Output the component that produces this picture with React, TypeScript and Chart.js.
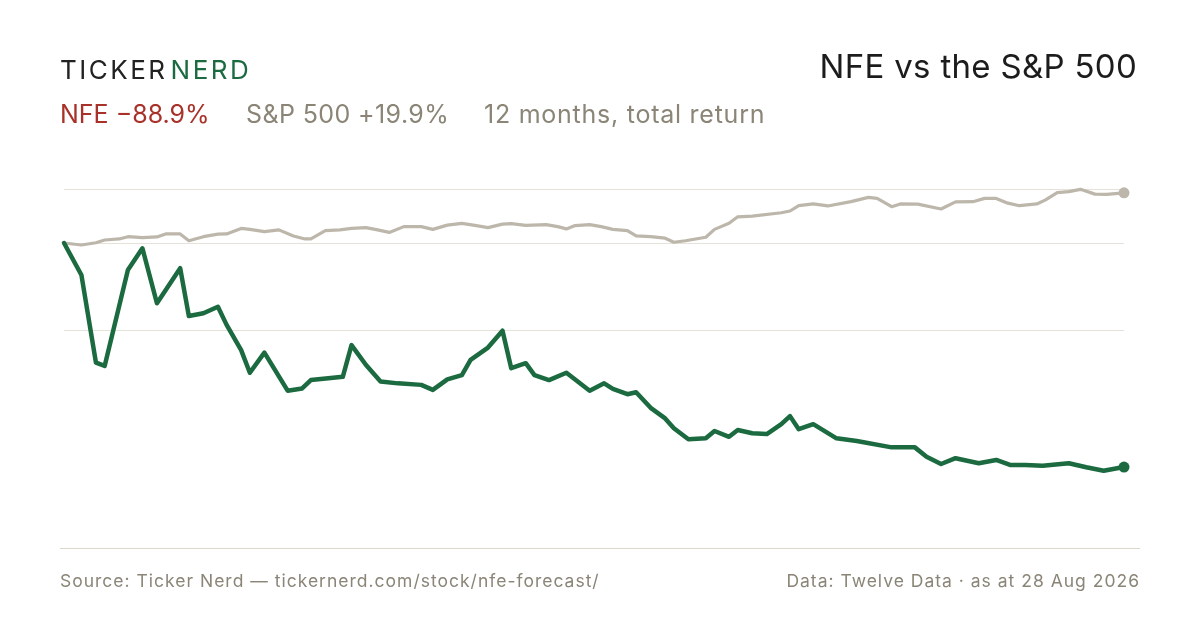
import { useEffect, useRef } from 'react';
import { Chart, registerables, type ChartConfiguration } from 'chart.js';

Chart.register(...registerables);

// Calendar days since 28 Aug 2025 and cumulative total return (%)
const nfeDays = [
  0, 6, 11, 14, 22, 27, 32, 40, 43, 48, 53, 56, 61, 64, 69, 77, 82, 85, 91, 96,
  99, 104, 109, 115, 123, 127, 132, 137, 140, 146, 151, 154, 159, 162, 167, 173,
  181, 186, 189, 194, 197, 202, 207, 210, 215, 221, 224, 229, 232, 237, 242, 247,
  250, 253, 258, 266, 273, 285, 293, 297, 302, 307, 315, 321, 326, 331, 337, 346,
  352, 358, 365,
];
const nfeReturns = [
  0, -12.7, -47.5, -48.8, -10.7, -2.1, -23.9, -10.0, -29.0, -27.9, -25.3, -32.5,
  -42.5, -51.5, -43.5, -58.6, -57.7, -54.4, -53.7, -53.1, -40.5, -48.4, -55.0,
  -55.7, -56.3, -58.3, -54.1, -52.4, -46.4, -41.5, -34.8, -49.7, -47.7, -52.4,
  -54.4, -51.5, -58.6, -55.7, -57.9, -60.0, -59.2, -65.4, -69.6, -73.5, -77.9,
  -77.5, -74.6, -76.9, -74.2, -75.5, -75.8, -71.9, -68.7, -73.9, -71.9, -77.5,
  -78.6, -81.1, -81.1, -84.8, -87.7, -85.4, -87.4, -86.1, -88.1, -88.1, -88.4,
  -87.4, -89.0, -90.4, -88.9,
];

const spxDays = [
  0, 6, 11, 14, 19, 22, 27, 32, 35, 40, 43, 48, 53, 56, 61, 64, 69, 74, 79, 83,
  85, 90, 95, 99, 104, 108, 112, 117, 123, 127, 132, 137, 142, 146, 151, 154,
  159, 166, 170, 173, 176, 181, 185, 189, 194, 197, 202, 207, 210, 214, 221, 224,
  229, 232, 237, 247, 250, 253, 258, 263, 271, 277, 280, 285, 288, 294, 302, 307,
  313, 317, 321, 325, 329, 335, 338, 342, 346, 350, 355, 359, 365,
];
const spxReturns = [
  0, -0.8, 0.1, 1.2, 1.6, 2.5, 2.1, 2.4, 3.6, 3.6, 0.9, 2.5, 3.5, 3.6, 5.8, 5.4,
  4.5, 5.2, 2.8, 1.6, 1.6, 4.9, 5.2, 5.8, 6.1, 5.2, 4.2, 6.5, 6.5, 5.4, 7.1, 7.8,
  6.9, 6.1, 7.5, 7.7, 7.0, 7.3, 6.5, 5.6, 6.9, 7.3, 6.5, 5.4, 4.9, 2.8, 2.5, 1.9,
  0.3, 0.9, 2.3, 5.4, 7.8, 10.4, 10.7, 12.0, 12.7, 14.8, 15.5, 14.7, 16.4, 18.1,
  17.7, 14.4, 15.5, 15.4, 13.5, 16.3, 16.4, 17.7, 17.7, 15.8, 14.8, 15.5, 17.1,
  20.0, 20.4, 21.3, 19.4, 19.3, 19.9,
];

const GREEN = '#1b6a40';
const SPX_GREY = '#bdb6ab';
const MUTED = '#8b8577';
const FONT = 'Inter, "Liberation Sans", Arial, sans-serif';

function ReturnChart() {
  const canvasRef = useRef<HTMLCanvasElement>(null);
  const chartRef = useRef<Chart | null>(null);

  useEffect(() => {
    if (!canvasRef.current) return;
    if (chartRef.current) chartRef.current.destroy();

    const all = [...nfeReturns, ...spxReturns];
    const hi = Math.max(...all);
    const lo = Math.min(...all);

    const endDot = (n: number, r: number) => (ctx: any) =>
      ctx.dataIndex === n - 1 ? r : 0;

    const config: ChartConfiguration<'line'> = {
      type: 'line',
      data: {
        datasets: [
          {
            label: 'NFE',
            data: nfeDays.map((d, i) => ({ x: d, y: nfeReturns[i] })),
            borderColor: GREEN,
            backgroundColor: GREEN,
            borderWidth: 4.5,
            tension: 0,
            borderJoinStyle: 'round',
            borderCapStyle: 'round',
            pointRadius: endDot(nfeDays.length, 5.5),
            pointBorderWidth: 0,
            clip: false,
            order: 0,
          },
          {
            label: 'S&P 500',
            data: spxDays.map((d, i) => ({ x: d, y: spxReturns[i] })),
            borderColor: SPX_GREY,
            backgroundColor: SPX_GREY,
            borderWidth: 3.2,
            tension: 0,
            borderJoinStyle: 'round',
            borderCapStyle: 'round',
            pointRadius: endDot(spxDays.length, 5.5),
            pointBorderWidth: 0,
            clip: false,
            order: 1,
          },
        ],
      },
      options: {
        responsive: true,
        maintainAspectRatio: false,
        animation: false,
        layout: {
          padding: { left: 64, right: 76, top: 180, bottom: 135 },
        },
        plugins: {
          legend: { display: false },
          tooltip: { enabled: false },
        },
        scales: {
          x: {
            type: 'linear',
            min: 0,
            max: 365,
            display: false,
          },
          y: {
            min: -100,
            max: 25,
            ticks: { display: false },
            grid: { color: '#e6e2da', lineWidth: 1, drawTicks: false },
            border: { display: false },
            afterBuildTicks: (axis) => {
              // gridlines at the high point, zero and halfway between high and low
              axis.ticks = [{ value: hi }, { value: 0 }, { value: (hi + lo) / 2 }];
            },
          },
        },
      },
    };

    chartRef.current = new Chart(canvasRef.current, config);

    return () => {
      if (chartRef.current) {
        chartRef.current.destroy();
        chartRef.current = null;
      }
    };
  }, []);

  return (
    <div style={{ position: 'absolute', left: 0, top: 0, width: 1200, height: 630 }}>
      <canvas ref={canvasRef} />
    </div>
  );
}

export default function App() {
  const text = (extra: React.CSSProperties): React.CSSProperties => ({
    position: 'absolute',
    lineHeight: 1,
    whiteSpace: 'nowrap',
    fontFamily: FONT,
    ...extra,
  });

  return (
    <div
      style={{
        position: 'absolute',
        left: 0,
        top: 0,
        width: 1200,
        height: 630,
        background: '#ffffff',
        overflow: 'hidden',
        fontFamily: FONT,
      }}
    >
      <ReturnChart />

      <div style={text({ left: 60, top: 57, fontSize: 26, letterSpacing: 2.5, color: '#222222' })}>
        TICKER<span style={{ color: GREEN, marginLeft: 3 }}>NERD</span>
      </div>

      <div style={text({ right: 63, top: 50, fontSize: 33, letterSpacing: 0.3, color: '#1c1c1c' })}>
        NFE vs the S&amp;P 500
      </div>

      <div style={text({ left: 60, top: 102, fontSize: 25, color: '#a8322a' })}>NFE −88.9%</div>
      <div style={text({ left: 246, top: 102, fontSize: 25, letterSpacing: 0.4, color: MUTED })}>
        S&amp;P 500 +19.9%
      </div>
      <div style={text({ left: 484, top: 102, fontSize: 25, letterSpacing: 0.75, color: MUTED })}>
        12 months, total return
      </div>

      <div
        style={{
          position: 'absolute',
          left: 60,
          top: 548,
          width: 1080,
          height: 1,
          background: '#dcd8cc',
        }}
      />

      <div style={text({ left: 60, top: 572, fontSize: 17.5, letterSpacing: 1, color: MUTED })}>
        Source: Ticker Nerd — tickernerd.com/stock/nfe-forecast/
      </div>
      <div style={text({ right: 60, top: 572, fontSize: 17.5, letterSpacing: 1, color: MUTED })}>
        Data: Twelve Data · as at 28 Aug 2026
      </div>
    </div>
  );
}
